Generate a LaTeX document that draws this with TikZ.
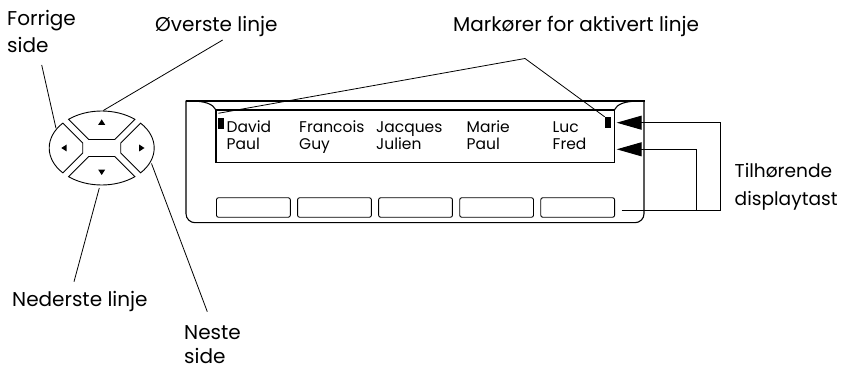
\documentclass[tikz,border=0pt]{standalone}
\usepackage{fontspec}
\setmainfont{Poppins}
\usetikzlibrary{arrows.meta}
\begin{document}
\begin{tikzpicture}[x=1pt,y=1pt,
  lbl/.style={font=\fontsize{20}{27.5}\selectfont, inner sep=0pt, anchor=base west, align=left},
  disp/.style={font=\fontsize{15.5}{16.6}\selectfont, inner sep=0pt, anchor=base west, align=left},
  skey/.style={draw, rounded corners=2pt, minimum width=73.8pt, minimum height=19.5pt, inner sep=0pt, line width=0.9pt},
  padkey/.style={draw, line width=0.9pt},
  lead/.style={line width=0.8pt},
  frameline/.style={line width=1.1pt},
  heavyline/.style={line width=2pt},
  marker/.style={fill, minimum width=6pt, minimum height=11pt, inner sep=0pt},
  pointer/.style={line width=1pt, -{Triangle[length=25pt,width=14pt]}}
]
\useasboundingbox (0,0) rectangle (842,-371);

% ---------- display unit ----------
\draw[frameline, rounded corners=9pt] (186,-100.7) -- (186,-222.7) -- (644,-222.7) -- (644,-100.7);
\draw[heavyline] (185.5,-100.7) -- (644.5,-100.7);
\draw[frameline] (191,-101) .. controls (205,-101) and (213,-104) .. (216,-110);
\draw[frameline] (614.3,-110) .. controls (617,-104) and (625,-101) .. (640,-101);
\draw[frameline] (216,-110) -- (216,-162.7) -- (614.3,-162.7) -- (614.3,-110);
\draw[heavyline] (216,-110) -- (614.3,-110);

\node[marker] (m1) at (221.2,-123.3) {};
\node[marker] (m2) at (608,-122.6) {};

\node[disp] (c1) at (226.5,-149.3) {David\\Paul};
\node[disp] (c2) at (299,-149.3) {Francois\\Guy};
\node[disp] (c3) at (376,-149.3) {Jacques\\Julien};
\node[disp] (c4) at (466.5,-149.3) {Marie\\Paul};
\node[disp] (c5) at (552.5,-149.3) {Luc\\Fred};

\foreach \i in {1,...,5}{
  \node[skey] (k\i) at ({253.4+81.07*(\i-1)},-207.5) {};
}

% ---------- D-pad ----------
\begin{scope}[shift={(101.7,-148)}]
  \draw[padkey] (-13,8.5) -- (129.2:52.5 and 37) arc[start angle=129.2, end angle=50.8, x radius=52.5, y radius=37] -- (13,8.5) -- cycle;
  \draw[padkey] (13,-8.5) -- (-50.8:52.5 and 37) arc[start angle=-50.8, end angle=-129.2, x radius=52.5, y radius=37] -- (-13,-8.5) -- cycle;
  \draw[padkey] (-19,-5) -- (222.24:52.5 and 37) arc[start angle=222.24, end angle=137.76, x radius=52.5, y radius=37] -- (-19,5) -- cycle;
  \draw[padkey] (19,5) -- (42.24:52.5 and 37) arc[start angle=42.24, end angle=-42.24, x radius=52.5, y radius=37] -- (19,-5) -- cycle;
  \fill (-3.5,23.2) -- (3.5,23.2) -- (0,28.6) -- cycle;
  \fill (-3.5,-21.6) -- (3.5,-21.6) -- (0,-27.0) -- cycle;
  \fill (-35,3.5) -- (-35,-3.5) -- (-40.4,0) -- cycle;
  \fill (37.4,3.5) -- (37.4,-3.5) -- (42.8,0) -- cycle;
\end{scope}

% ---------- labels ----------
\node[lbl] (forrige) at (7,-53) {Forrige\\side};
\node[lbl] (overste) at (155,-31.5) {Øverste linje};
\node[lbl] (markor) at (453,-31.5) {Markører for aktivert linje};
\node[lbl, font=\fontsize{18.6}{28.5}\selectfont] (tilh) at (734.5,-206) {Tilhørende\\displaytast};
\node[lbl] (nederste) at (12,-306) {Nederste linje};
\node[lbl, font=\fontsize{20}{24.5}\selectfont] (neste) at (184,-363.5) {Neste\\side};

% ---------- leader lines ----------
\coordinate (fA) at (41.7,-65);   \coordinate (fB) at (56,-128.3);
\coordinate (oA) at (222.7,-40);  \coordinate (oB) at (103.3,-110.5);
\coordinate (nA) at (74,-281.7);  \coordinate (nB) at (99.3,-188);
\coordinate (sA) at (207.3,-311.7); \coordinate (sB) at (151.5,-163.5);
\coordinate (apex) at (525,-58.5); \coordinate (mk1) at (218.3,-113.3);
\draw[lead] (fA) -- (fB);
\draw[lead] (oA) -- (oB);
\draw[lead] (nA) -- (nB);
\draw[lead] (sA) -- (sB);
\draw[lead] (apex) -- (mk1);
\draw[lead] (apex) -- (m2.north west);

% ---------- softkey pointers ----------
\coordinate (bs) at (621.7,-210.7);
\coordinate (t1) at (616.7,-122.7);
\coordinate (t2) at (616.7,-149.3);
\draw[pointer] (bs) -- (720,-210.7) -- (720,-122.7) -- (t1);
\draw[pointer] (696,-210.7) -- (696,-149.3) -- (t2);
\end{tikzpicture}
\end{document}
